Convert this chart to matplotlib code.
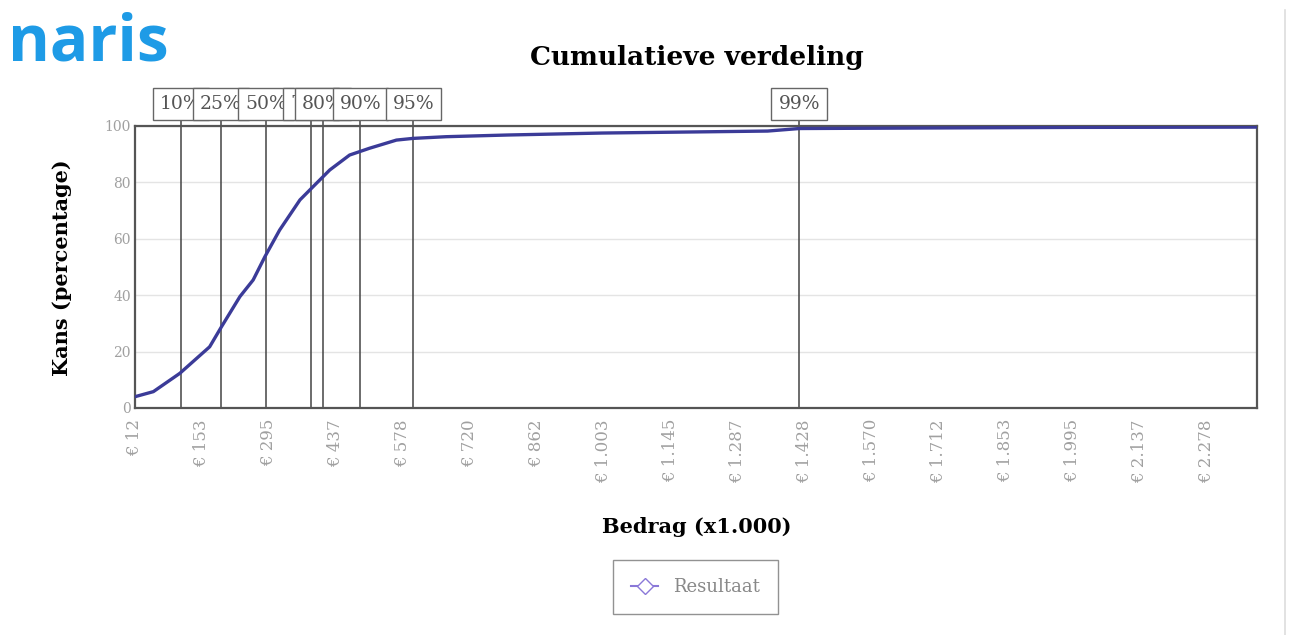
import matplotlib.pyplot as plt
from matplotlib.lines import Line2D
from matplotlib.patches import Rectangle
import matplotlib.transforms as mtransforms

# cumulative curve
amount = [12, 51, 107, 170, 195, 234, 262, 287, 318, 361, 396, 424, 466, 508,
          565, 600, 670, 800, 1000, 1200, 1350, 1417, 1700, 2000, 2385]
chance = [4.0, 5.8, 12.3, 21.7, 28.8, 39.5, 45.4, 53.7, 63.1, 73.8, 79.7, 84.4,
          89.7, 92.1, 95.0, 95.6, 96.2, 96.8, 97.5, 97.9, 98.2, 99.1, 99.3, 99.5, 99.6]

# percentile markers
pct_labels = ['10%', '25%', '50%', '75%', '80%', '90%', '95%', '99%']
pct_values = [109, 194, 289, 384, 409, 489, 601, 1417]

xticks = [12, 153, 295, 437, 578, 720, 862, 1003, 1145, 1287, 1428, 1570,
          1712, 1853, 1995, 2137, 2278]
xtick_labels = ['€ ' + format(v, ',').replace(',', '.') for v in xticks]
yticks = [0, 20, 40, 60, 80, 100]

plt.rcParams['font.family'] = ['DejaVu Serif']

fig = plt.figure(figsize=(12.95, 6.35), dpi=100)
ax = fig.add_axes([0.1042, 0.3575, 0.8665, 0.4441])

ax.plot(amount, chance, color='#3b3b98', lw=2.4, zorder=3)

ax.set_xlim(12, 2385)
ax.set_ylim(0, 100)
ax.set_xticks(xticks)
ax.set_xticklabels(xtick_labels, rotation=90, fontsize=12, color='#a0a0a0')
ax.set_yticks(yticks)
ax.set_yticklabels([str(v) for v in yticks], fontsize=10, color='#a0a0a0')
ax.tick_params(axis='x', length=0, pad=8)
ax.tick_params(axis='y', length=0, pad=3)
ax.yaxis.grid(True, color='#e4e4e4', lw=1)
ax.set_axisbelow(True)
for s in ax.spines.values():
    s.set_color('#555555')
    s.set_linewidth(1.6)

trans = mtransforms.blended_transform_factory(ax.transData, ax.transAxes)
box_w = 118
for i, (lab, v) in enumerate(zip(pct_labels, pct_values)):
    ax.plot([v, v], [0, 1.021], transform=trans, color='#444444', lw=1.1,
            clip_on=False, zorder=2)
    r = Rectangle((v - box_w / 2, 1.021), box_w, 0.114, transform=trans,
                  facecolor='white', edgecolor='#666666', lw=1,
                  clip_on=False, zorder=10 + 2 * i)
    ax.add_patch(r)
    ax.text(v, 1.078, lab, transform=trans, ha='center', va='center',
            fontsize=13.5, color='#555555', zorder=11 + 2 * i, clip_on=False)

fig.text(0.538, 0.909, 'Cumulatieve verdeling', fontsize=19, fontweight='bold',
         ha='center', va='center')
fig.text(0.538, 0.17, 'Bedrag (x1.000)', fontsize=15, fontweight='bold',
         ha='center', va='center')
fig.text(0.048, 0.578, 'Kans (percentage)', fontsize=15, fontweight='bold',
         ha='center', va='center', rotation=90)

handle = Line2D([], [], color='#8a78d8', marker='D', markersize=8,
                markerfacecolor='white', markeredgecolor='#8a78d8', lw=1.5)
leg = fig.legend([handle], ['Resultaat'], loc='center',
                 bbox_to_anchor=(0.537, 0.0756), fontsize=13,
                 fancybox=False, edgecolor='#777777', borderpad=1.0,
                 handlelength=1.5, handletextpad=0.8, borderaxespad=0)
for t in leg.get_texts():
    t.set_color('#888888')

fig.text(0.006, 0.904, 'naris', fontsize=46, fontweight='bold', color='#1e9be6',
         family=['Open Sans', 'DejaVu Sans'], va='baseline')

fig.add_artist(Line2D([0.992, 0.992], [0.0, 0.984], color='#dddddd', lw=1.2))

fig.savefig('out.png', dpi=100)
